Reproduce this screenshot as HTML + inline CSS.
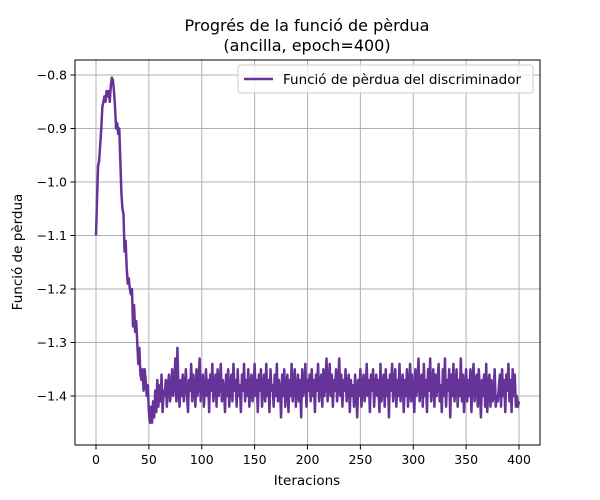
<!DOCTYPE html>
<html><head><meta charset="utf-8"><style>
body{margin:0;background:#fff;}
svg{display:block;font-family:"DejaVu Sans","Liberation Sans",sans-serif;}
</style></head><body>
<svg id="chart" width="600" height="500" xmlns="http://www.w3.org/2000/svg"></svg>
<script>
const xTicks=[0,50,100,150,200,250,300,350,400];
const yTicks=[-0.8,-0.9,-1.0,-1.1,-1.2,-1.3,-1.4];
const yTickLabels=["−0.8","−0.9","−1.0","−1.1","−1.2","−1.3","−1.4"];
const lossWarmup=[-1.10,-1.03,-0.97,-0.96,-0.93,-0.90,-0.86,-0.85,-0.84,-0.85,-0.83,-0.84,-0.83,-0.85,-0.82,-0.805,-0.81,-0.83,-0.86,-0.90,-0.89,-0.91,-0.90,-0.96,-1.02,-1.05,-1.06,-1.13,-1.11,-1.16,-1.19,-1.18,-1.20,-1.21,-1.20,-1.27,-1.23,-1.28,-1.26,-1.30,-1.34,-1.31,-1.36,-1.37,-1.35,-1.39,-1.35,-1.37,-1.40,-1.38,-1.43,-1.45,-1.42];
const lossNoise=[-1.45,-1.41,-1.44,-1.39,-1.43,-1.37,-1.42,-1.38,-1.41,-1.36,-1.43,-1.39,-1.40,-1.37,-1.42,-1.38,-1.36,-1.41,-1.39,-1.35,-1.40,-1.38,-1.33,-1.41,-1.31,-1.39,-1.42,-1.37,-1.40,-1.36,
-1.41,-1.38,-1.35,-1.40,-1.43,-1.37,-1.39,-1.34,-1.41,-1.36,-1.38,-1.42,-1.35,-1.40,-1.37,-1.33,-1.41,-1.38,-1.36,-1.42,-1.39,-1.35,-1.40,-1.37,-1.43,-1.36,-1.39,-1.34,-1.41,-1.38,
-1.36,-1.42,-1.35,-1.40,-1.38,-1.34,-1.41,-1.37,-1.39,-1.43,-1.36,-1.40,-1.35,-1.42,-1.38,-1.36,-1.41,-1.34,-1.39,-1.37,-1.42,-1.35,-1.40,-1.38,-1.43,-1.36,-1.39,-1.34,-1.41,-1.37,
-1.40,-1.35,-1.42,-1.38,-1.36,-1.41,-1.39,-1.34,-1.40,-1.37,-1.43,-1.36,-1.39,-1.35,-1.42,-1.38,-1.36,-1.41,-1.34,-1.40,-1.37,-1.43,-1.35,-1.39,-1.38,-1.42,-1.36,-1.40,-1.34,-1.41,
-1.37,-1.39,-1.44,-1.36,-1.40,-1.35,-1.42,-1.38,-1.36,-1.43,-1.37,-1.40,-1.34,-1.41,-1.38,-1.35,-1.42,-1.39,-1.36,-1.41,-1.37,-1.44,-1.35,-1.40,-1.38,-1.34,-1.42,-1.37,-1.39,-1.36,
-1.41,-1.35,-1.40,-1.37,-1.43,-1.36,-1.39,-1.34,-1.41,-1.38,-1.36,-1.42,-1.35,-1.40,-1.37,-1.33,-1.41,-1.38,-1.34,-1.40,-1.36,-1.42,-1.37,-1.39,-1.35,-1.41,-1.38,-1.33,-1.40,-1.36,
-1.42,-1.37,-1.39,-1.35,-1.41,-1.38,-1.36,-1.43,-1.37,-1.40,-1.38,-1.42,-1.36,-1.39,-1.44,-1.37,-1.40,-1.35,-1.42,-1.38,-1.36,-1.41,-1.39,-1.34,-1.40,-1.37,-1.43,-1.36,-1.39,-1.35,
-1.42,-1.38,-1.36,-1.40,-1.37,-1.43,-1.34,-1.41,-1.38,-1.36,-1.42,-1.35,-1.40,-1.37,-1.44,-1.36,-1.39,-1.34,-1.41,-1.38,-1.35,-1.42,-1.37,-1.40,-1.34,-1.41,-1.38,-1.36,-1.43,-1.37,
-1.40,-1.35,-1.42,-1.38,-1.34,-1.41,-1.36,-1.39,-1.43,-1.35,-1.40,-1.37,-1.33,-1.41,-1.38,-1.36,-1.42,-1.34,-1.40,-1.37,-1.43,-1.35,-1.39,-1.33,-1.41,-1.38,-1.35,-1.42,-1.36,-1.40,
-1.37,-1.34,-1.41,-1.38,-1.43,-1.35,-1.40,-1.33,-1.42,-1.37,-1.39,-1.35,-1.44,-1.36,-1.40,-1.34,-1.41,-1.38,-1.35,-1.42,-1.37,-1.40,-1.33,-1.41,-1.36,-1.43,-1.38,-1.35,-1.41,-1.37,
-1.40,-1.35,-1.43,-1.37,-1.34,-1.41,-1.38,-1.36,-1.42,-1.35,-1.39,-1.44,-1.37,-1.40,-1.36,-1.42,-1.34,-1.43,-1.38,-1.36,-1.42,-1.37,-1.41,-1.40,-1.35,-1.42,-1.40,-1.41,-1.38,-1.36,
-1.42,-1.35,-1.40,-1.37,-1.43,-1.36,-1.39,-1.34,-1.41,-1.37,-1.43,-1.35,-1.40,-1.36,-1.42,-1.40,-1.42,-1.41];
const lossValues=lossWarmup.concat(lossNoise);

const NS="http://www.w3.org/2000/svg";
const svg=document.getElementById('chart');
const L=75,R=540,T=60,B=445;
const xScale=v=>96+(v/400)*423;
const yScale=v=>75+(-0.8-v)/0.1*53.5;
function mk(tag,attrs,parent){const e=document.createElementNS(NS,tag);for(const k in attrs)e.setAttribute(k,attrs[k]);(parent||svg).appendChild(e);return e;}

const grid=mk('g',{});


xTicks.forEach(t=>{
  const x=xScale(t);
  const g=mk('line',{x1:x,x2:x,y1:T,y2:B,stroke:'#b0b0b0','stroke-width':1},grid);
  
  
  const tk=mk('line',{x1:x,x2:x,y1:B,y2:B+4.5,stroke:'#000','stroke-width':1});
  
  
  const lb=mk('text',{x:x,y:B+19,'text-anchor':'middle','font-size':12.5});
  lb.textContent=t;
  
  
});
yTicks.forEach((t,i)=>{
  const y=yScale(t);
  const g=mk('line',{x1:L,x2:R,y1:y,y2:y,stroke:'#b0b0b0','stroke-width':1},grid);
  
  
  const tk=mk('line',{x1:L-4.5,x2:L,y1:y,y2:y,stroke:'#000','stroke-width':1});
  
  
  const lb=mk('text',{x:L-8,y:y+4.5,'text-anchor':'end','font-size':12.5});
  lb.textContent=yTickLabels[i];
  
  
});

const pts=lossValues.map((v,i)=>xScale(i).toFixed(2)+','+yScale(v).toFixed(2)).join(' ');
const line=mk('polyline',{points:pts,fill:'none',stroke:'#663399','stroke-width':2.5,'stroke-linejoin':'round'});



const frame=mk('rect',{x:L,y:T,width:R-L,height:B-T,fill:'none',stroke:'#000','stroke-width':1});



const t1=mk('text',{x:307,y:31,'text-anchor':'middle','font-size':16});
t1.textContent='Progrés de la funció de pèrdua';


const t2=mk('text',{x:307,y:51,'text-anchor':'middle','font-size':16});
t2.textContent='(ancilla, epoch=400)';



const xt=mk('text',{x:307,y:485,'text-anchor':'middle','font-size':13.5});
xt.textContent='Iteracions';


const yt=mk('text',{x:22,y:252,'text-anchor':'middle','font-size':13.5,transform:'rotate(-90 22 252)'});
yt.textContent='Funció de pèrdua';



const lg=mk('g',{});


mk('rect',{x:238,y:65,width:295,height:28,rx:3,fill:'#fff','fill-opacity':0.8,stroke:'#ccc','stroke-width':1},lg);
const ll=mk('line',{x1:244,x2:273,y1:79,y2:79,stroke:'#663399','stroke-width':2.5},lg);


const lt=mk('text',{x:283,y:84,'font-size':13.5},lg);
lt.textContent='Funció de pèrdua del discriminador';


</script>
</body></html>
